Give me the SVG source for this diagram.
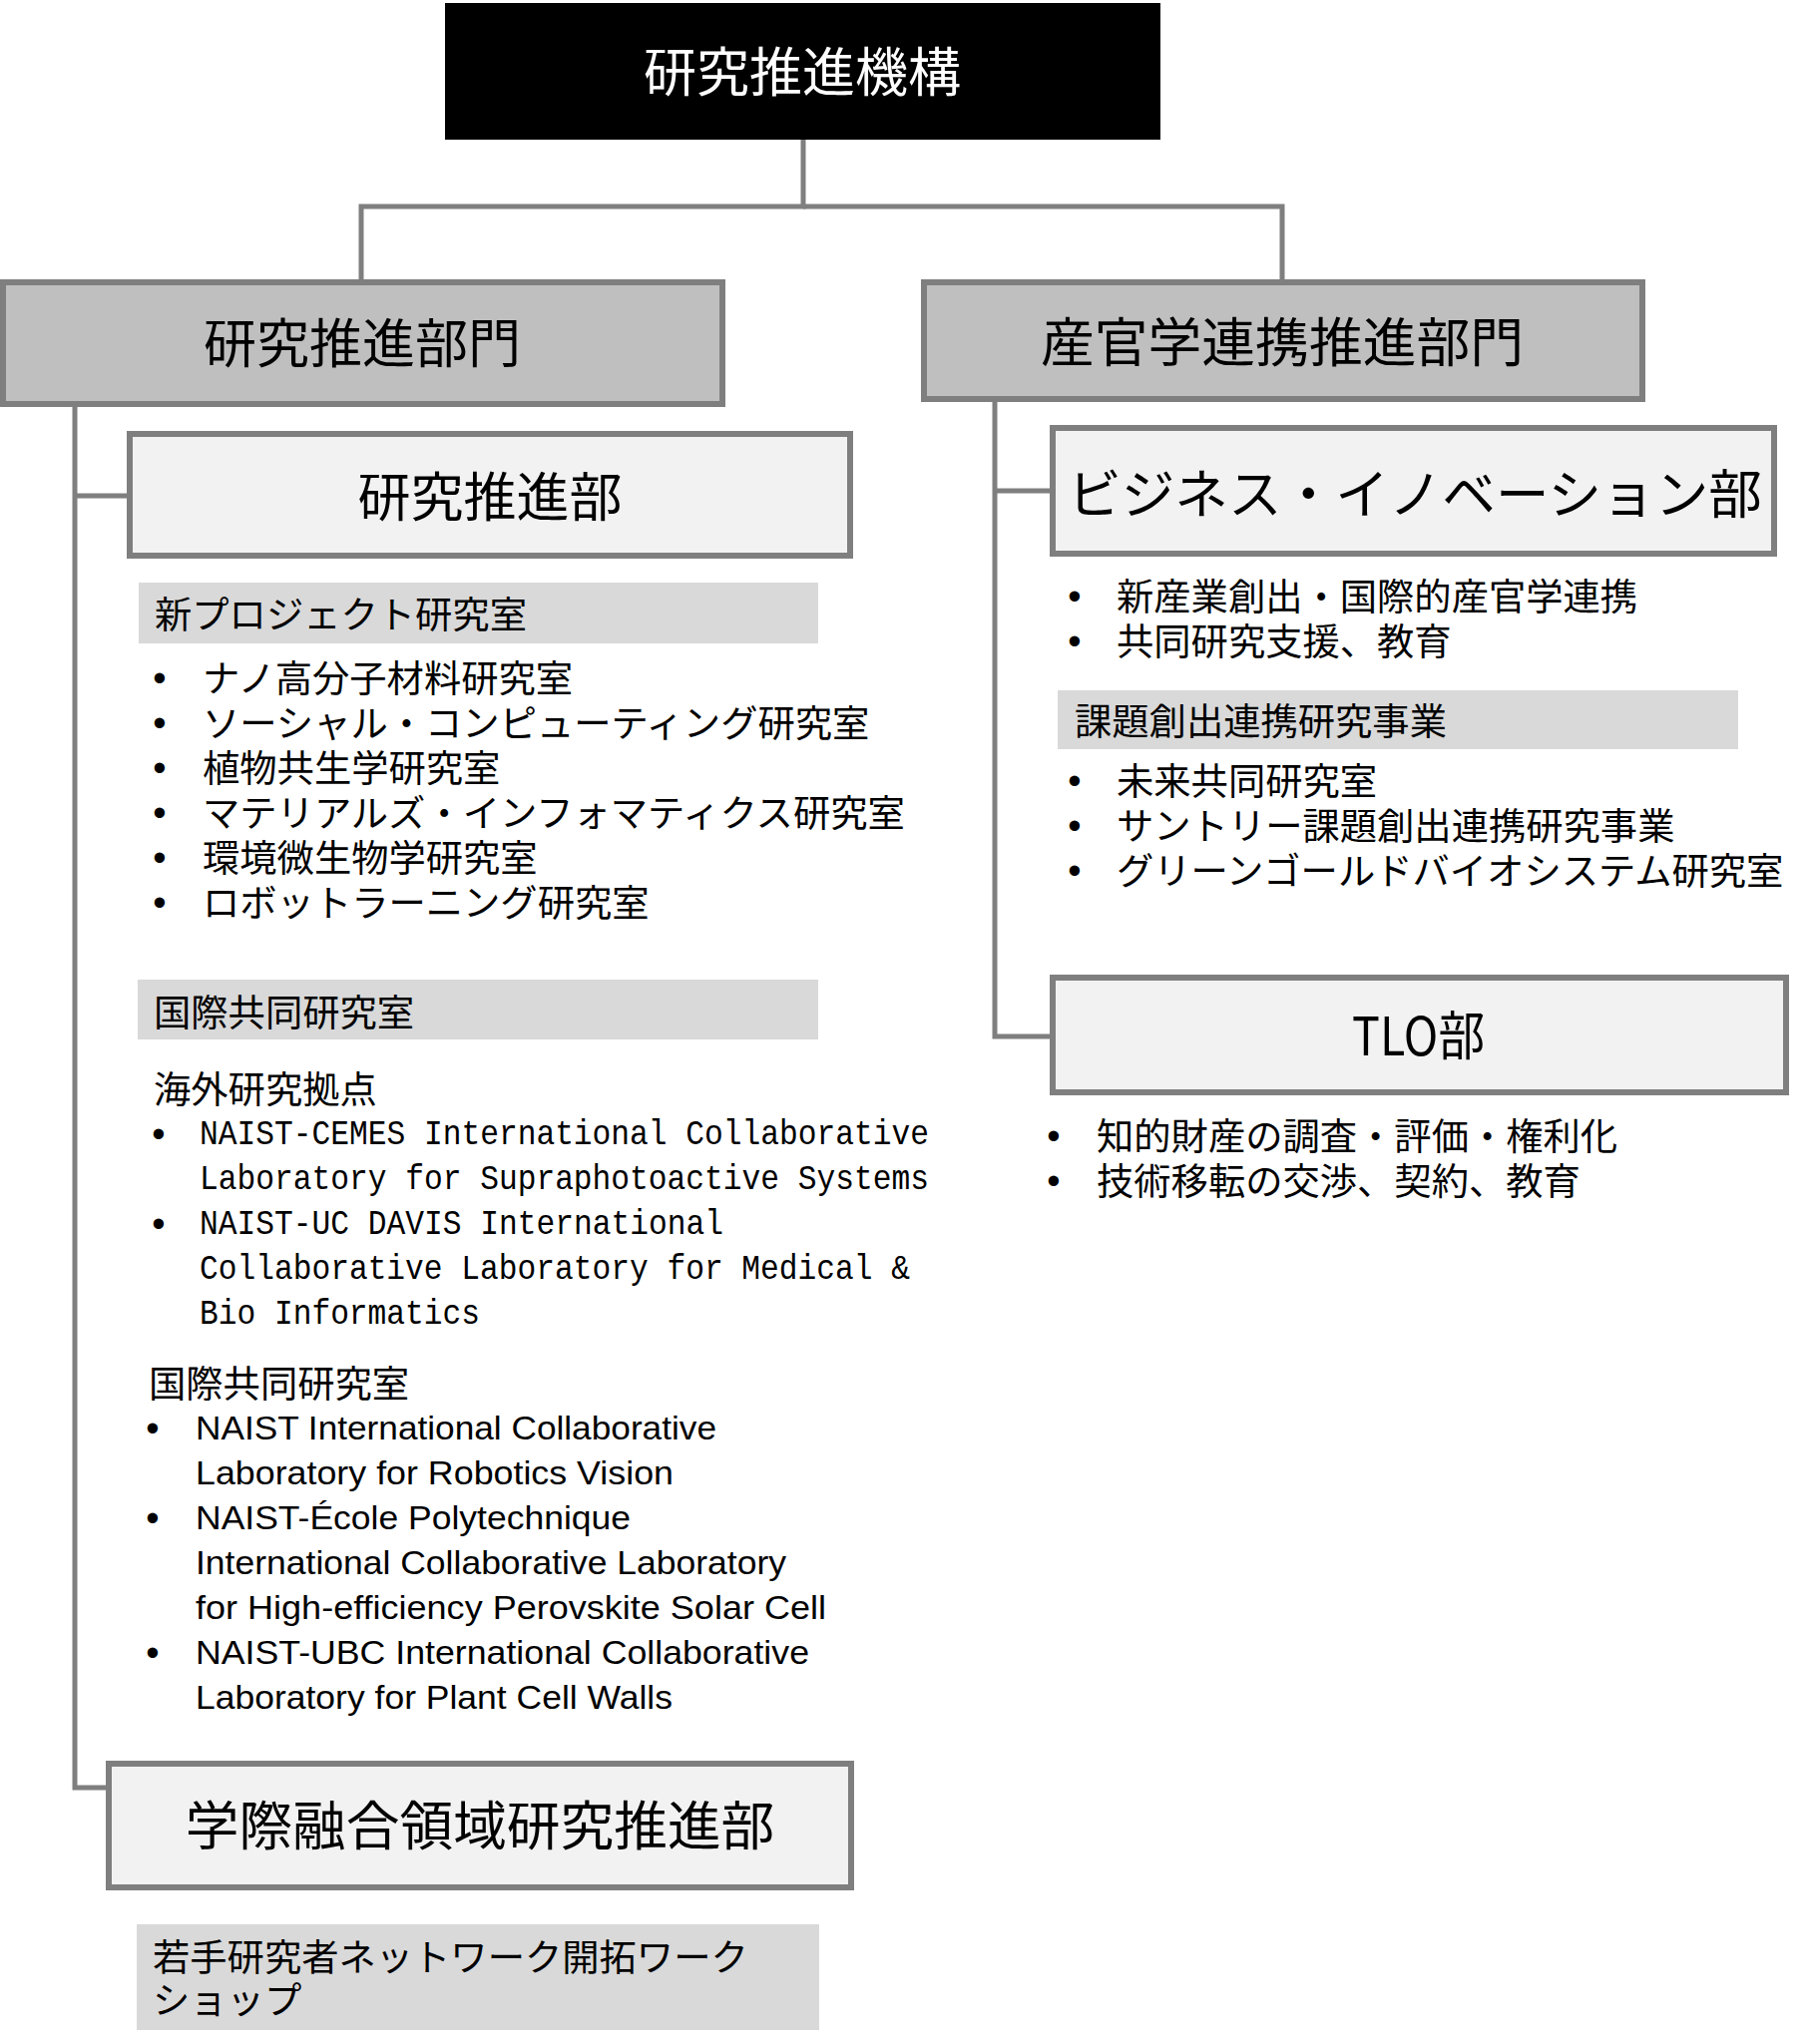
<svg xmlns="http://www.w3.org/2000/svg" width="1814" height="2049" viewBox="0 0 1814 2049">
<style>
.bg{fill:#ffffff}
.dept{fill:#bfbfbf;stroke:#7f7f7f;stroke-width:6}
.sub{fill:#f2f2f2;stroke:#7f7f7f;stroke-width:6}
.bar{fill:#d9d9d9}
.conn{fill:none;stroke:#7f7f7f;stroke-width:5}
.jp{font-family:"Noto Sans CJK JP","Noto Sans CJK SC",sans-serif;fill:#000}
.h1{font-size:53px;text-anchor:middle}
.s{font-size:37.3px}
.mono{font-family:"Liberation Mono","DejaVu Sans Mono",monospace;font-size:35px;fill:#000}
.en{font-family:"Liberation Sans",Arial,sans-serif;font-size:33px;fill:#000}
.bul{font-family:"Liberation Sans",Arial,sans-serif;font-size:38px;fill:#000;text-anchor:middle;dominant-baseline:central}
</style>
<rect class="bg" x="0" y="0" width="1814" height="2049"/>
<g id="connectors">
<path class="conn" d="M805,140 V207 H362 V280"/>
<path class="conn" d="M805,207 H1285 V280"/>
<path class="conn" d="M75,408 V1792 H106"/>
<path class="conn" d="M75,497 H127"/>
<path class="conn" d="M997,403 V1039 H1052"/>
<path class="conn" d="M997,492 H1052"/>
</g>
<g id="node-kenkyu-suishin-kikou">
<rect x="446" y="3" width="717" height="137" fill="#000"/>
<text class="jp h1" x="804" y="92" style="fill:#fff">研究推進機構</text>
</g>
<g id="node-kenkyu-suishin-bumon">
<rect class="dept" x="3" y="283" width="721" height="122"/>
<text class="jp h1" x="363" y="364">研究推進部門</text>
</g>
<g id="node-sankangaku">
<rect class="dept" x="926" y="283" width="720" height="117"/>
<text class="jp h1" x="1285" y="363" style="font-size:53.8px">産官学連携推進部門</text>
</g>
<g id="node-kenkyu-suishin-bu">
<rect class="sub" x="130" y="435" width="722" height="122"/>
<text class="jp h1" x="491" y="518">研究推進部</text>
</g>
<g id="node-business">
<rect class="sub" x="1055" y="429" width="723" height="126"/>
<text class="jp h1" x="1418" y="515" style="font-size:53.6px">ビジネス・イノベーション部</text>
</g>
<g id="node-tlo">
<rect class="sub" x="1055" y="980" width="735" height="115"/>
<text class="jp" x="1355" y="1058" style="font-size:53px" textLength="133" lengthAdjust="spacingAndGlyphs">TLO部</text>
</g>
<g id="node-gakusai">
<rect class="sub" x="109" y="1768" width="744" height="124"/>
<text class="jp h1" x="481" y="1850" style="font-size:53.7px">学際融合領域研究推進部</text>
</g>
<g id="list-new-project">
<rect class="bar" x="139" y="584" width="681" height="61"/>
<text class="jp s" x="155" y="630">新プロジェクト研究室</text>
<text class="bul" x="160" y="680">•</text><text class="jp s" x="203" y="694">ナノ高分子材料研究室</text>
<text class="bul" x="160" y="725">•</text><text class="jp s" x="203" y="739">ソーシャル・コンピューティング研究室</text>
<text class="bul" x="160" y="770">•</text><text class="jp s" x="203" y="784">植物共生学研究室</text>
<text class="bul" x="160" y="815">•</text><text class="jp s" x="203" y="829">マテリアルズ・インフォマティクス研究室</text>
<text class="bul" x="160" y="860">•</text><text class="jp s" x="203" y="874">環境微生物学研究室</text>
<text class="bul" x="160" y="905">•</text><text class="jp s" x="203" y="919">ロボットラーニング研究室</text>
</g>
<g id="list-international">
<rect class="bar" x="138" y="982" width="682" height="60"/>
<text class="jp s" x="154" y="1029">国際共同研究室</text>
<text class="jp s" x="154" y="1106">海外研究拠点</text>
<text class="bul" x="159" y="1137">•</text>
<text class="mono" x="200" y="1147" textLength="731" lengthAdjust="spacingAndGlyphs">NAIST-CEMES International Collaborative</text>
<text class="mono" x="200" y="1192" textLength="731" lengthAdjust="spacingAndGlyphs">Laboratory for Supraphotoactive Systems</text>
<text class="bul" x="159" y="1227">•</text>
<text class="mono" x="200" y="1237" textLength="525" lengthAdjust="spacingAndGlyphs">NAIST-UC DAVIS International</text>
<text class="mono" x="200" y="1282" textLength="712" lengthAdjust="spacingAndGlyphs">Collaborative Laboratory for Medical &amp;</text>
<text class="mono" x="200" y="1327" textLength="281" lengthAdjust="spacingAndGlyphs">Bio Informatics</text>
<text class="jp s" x="149" y="1401">国際共同研究室</text>
<text class="bul" x="153" y="1432">•</text>
<text class="en" x="196" y="1443" textLength="522" lengthAdjust="spacingAndGlyphs">NAIST International Collaborative</text>
<text class="en" x="196" y="1488" textLength="479" lengthAdjust="spacingAndGlyphs">Laboratory for Robotics Vision</text>
<text class="bul" x="153" y="1522">•</text>
<text class="en" x="196" y="1533" textLength="436" lengthAdjust="spacingAndGlyphs">NAIST-École Polytechnique</text>
<text class="en" x="196" y="1578" textLength="592" lengthAdjust="spacingAndGlyphs">International Collaborative Laboratory</text>
<text class="en" x="196" y="1623" textLength="632" lengthAdjust="spacingAndGlyphs">for High-efficiency Perovskite Solar Cell</text>
<text class="bul" x="153" y="1657">•</text>
<text class="en" x="196" y="1668" textLength="615" lengthAdjust="spacingAndGlyphs">NAIST-UBC International Collaborative</text>
<text class="en" x="196" y="1713" textLength="478" lengthAdjust="spacingAndGlyphs">Laboratory for Plant Cell Walls</text>
</g>
<g id="list-wakate">
<rect class="bar" x="137" y="1929" width="684" height="106"/>
<text class="jp s" x="153" y="1976">若手研究者ネットワーク開拓ワーク</text>
<text class="jp s" x="153" y="2019">ショップ</text>
</g>
<g id="list-business">
<text class="bul" x="1077" y="598">•</text><text class="jp s" x="1119" y="612">新産業創出・国際的産官学連携</text>
<text class="bul" x="1077" y="643">•</text><text class="jp s" x="1119" y="657">共同研究支援、教育</text>
<rect class="bar" x="1060" y="692" width="682" height="59"/>
<text class="jp s" x="1077" y="737">課題創出連携研究事業</text>
<text class="bul" x="1077" y="783">•</text><text class="jp s" x="1119" y="797">未来共同研究室</text>
<text class="bul" x="1077" y="828">•</text><text class="jp s" x="1119" y="842">サントリー課題創出連携研究事業</text>
<text class="bul" x="1077" y="873">•</text><text class="jp s" x="1119" y="887">グリーンゴールドバイオシステム研究室</text>
</g>
<g id="list-tlo">
<text class="bul" x="1056" y="1139">•</text><text class="jp s" x="1099" y="1153">知的財産の調査・評価・権利化</text>
<text class="bul" x="1056" y="1184">•</text><text class="jp s" x="1099" y="1198">技術移転の交渉、契約、教育</text>
</g>
</svg>
